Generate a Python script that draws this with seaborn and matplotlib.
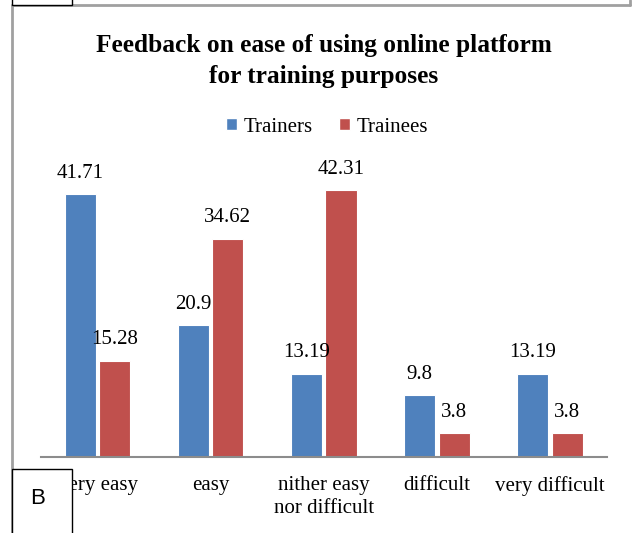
import matplotlib
matplotlib.use("Agg")
import matplotlib.pyplot as plt
import pandas as pd
import seaborn as sns
from matplotlib.lines import Line2D
from matplotlib.patches import Rectangle

categories = ["very easy", "easy", "nither easy\nnor difficult", "difficult", "very difficult"]
trainers = [41.71, 20.9, 13.19, 9.8, 13.19]
trainees = [15.28, 34.62, 42.31, 3.8, 3.8]
series = ["Trainers", "Trainees"]
colors = ["#4F81BD", "#C0504D"]

df = pd.DataFrame({
    "category": categories * 2,
    "group": [series[0]] * len(categories) + [series[1]] * len(categories),
    "value": trainers + trainees,
})

sns.set_style("white")
plt.rcParams["font.family"] = ["Liberation Serif", "DejaVu Serif"]
plt.rcParams["text.color"] = "black"
plt.rcParams["xtick.color"] = "black"
plt.rcParams["xtick.labelcolor"] = "black"

W, H = 634, 533
fig = plt.figure(figsize=(W / 100, H / 100), dpi=100)
ax = fig.add_axes([41 / W, 1 - 457 / H, 565.5 / W, 283.5 / H])

sns.barplot(data=df, x="category", y="value", hue="group", palette=colors,
            saturation=1, width=0.61, gap=0.1, edgecolor="white", linewidth=0.8,
            legend=False, ax=ax)
ax.set_ylim(0, 45)

for cont, vals in zip(ax.containers, [trainers, trainees]):
    ax.bar_label(cont, labels=[f"{v:g}" for v in vals], padding=8.3, fontsize=15,
                 color="black")

ax.set_xlabel("")
ax.set_ylabel("")
ax.set_yticks([])
ax.tick_params(axis="x", length=0, pad=14, labelsize=15, labelcolor="black")
for lbl in ax.get_xticklabels():
    lbl.set_linespacing(1.25)
for s in ["left", "right", "top"]:
    ax.spines[s].set_visible(False)
ax.spines["bottom"].set_color("#8c8c8c")
ax.spines["bottom"].set_linewidth(1.5)

fig.text(324 / W, 1 - 34 / H, "Feedback on ease of using online platform\nfor training purposes",
         ha="center", va="top", fontsize=18.3, fontweight="bold", linespacing=1.45,
         color="black")

handles = [Rectangle((0, 0), 1, 1, facecolor=c) for c in colors]
fig.legend(handles, series, loc="center", bbox_to_anchor=(327 / W, 1 - 127 / H),
           ncol=2, frameon=False, fontsize=15, handlelength=0.55, handleheight=0.55,
           handletextpad=0.3, columnspacing=1.25, labelcolor="black")

# page frame and side boxes
frame_kw = dict(color="#a0a0a0", linewidth=2, transform=fig.transFigure)
fig.add_artist(Line2D([12 / W, 12 / W], [0, 1 - 5 / H], **frame_kw))
fig.add_artist(Line2D([12 / W, 630 / W], [1 - 5 / H, 1 - 5 / H], **frame_kw))
fig.add_artist(Line2D([630 / W, 630 / W], [1 - 5 / H, 1], **frame_kw))
fig.add_artist(Rectangle((12 / W, 1 - 5 / H), 60 / W, 10 / H, transform=fig.transFigure,
                         facecolor="white", edgecolor="black", linewidth=1, zorder=10))
fig.add_artist(Rectangle((12 / W, -5 / H), 60 / W, 69 / H, transform=fig.transFigure,
                         facecolor="white", edgecolor="black", linewidth=1, zorder=10))
fig.text(38 / W, 1 - 498 / H, "B", ha="center", va="center", fontsize=16,
         family="Liberation Sans", color="black", zorder=11)

fig.savefig("out.png", dpi=100)
